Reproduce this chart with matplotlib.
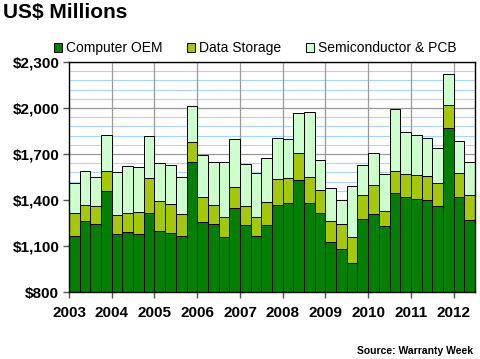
import matplotlib
matplotlib.use("Agg")
import matplotlib.pyplot as plt
import matplotlib.transforms as mtransforms
import numpy as np

plt.rcParams['font.family'] = ['Liberation Sans', 'DejaVu Sans']

# quarterly values, 2003 Q1 .. 2012 Q2 (US$ millions)
computer_oem = [1163, 1264, 1243, 1459, 1176, 1191, 1176, 1318,
                1199, 1184, 1165, 1651, 1254, 1243, 1158, 1348,
                1236, 1163, 1240, 1370, 1381, 1528, 1381, 1318,
                1126, 1079, 988, 1273, 1309, 1232, 1448, 1418,
                1409, 1403, 1359, 1867, 1418, 1267]
storage_top = [1318, 1370, 1359, 1591, 1305, 1318, 1325, 1541,
               1392, 1377, 1309, 1780, 1418, 1370, 1292, 1484,
               1359, 1292, 1385, 1536, 1543, 1707, 1552, 1467,
               1260, 1245, 1156, 1431, 1495, 1331, 1586, 1571,
               1566, 1558, 1513, 2020, 1573, 1435]
totals = [1513, 1591, 1552, 1824, 1584, 1623, 1612, 1817,
          1644, 1629, 1552, 2014, 1694, 1651, 1651, 1800,
          1636, 1578, 1675, 1804, 1798, 1968, 1977, 1664,
          1476, 1403, 1493, 1631, 1707, 1567, 1992, 1841,
          1824, 1804, 1742, 2219, 1785, 1651]
years = ['2003', '2004', '2005', '2006', '2007', '2008', '2009', '2010', '2011', '2012']

computer_oem = np.array(computer_oem)
data_storage = np.array(storage_top) - computer_oem
semiconductor = np.array(totals) - np.array(storage_top)

fig = plt.figure(figsize=(4.8, 3.59), dpi=100)
ax = fig.add_axes([0.1438, 0.1866, 0.8458, 0.6407])

x = np.arange(len(computer_oem)) + 0.5
# bars start at 800 (axis floor)
ax.bar(x, computer_oem - 800, bottom=800, width=1.0, color='#008000',
       edgecolor='black', linewidth=0.7, zorder=3, label='Computer OEM')
ax.bar(x, data_storage, bottom=computer_oem, width=1.0, color='#A6C800',
       edgecolor='black', linewidth=0.7, zorder=3, label='Data Storage')
ax.bar(x, semiconductor, bottom=computer_oem + data_storage, width=1.0,
       color='#CCFFCC', edgecolor='black', linewidth=0.7, zorder=3,
       label='Semiconductor & PCB')

ax.set_xlim(0, len(computer_oem))
ax.set_ylim(800, 2300)

# gridlines
for v in np.arange(800, 2301, 60):
    if (v - 800) % 300 != 0:
        ax.axhline(v, color='#A8D4FF', linewidth=0.8, zorder=1)
for v in range(1100, 2301, 300):
    ax.axhline(v, color='#999999', linewidth=0.9, zorder=1)
for xv in range(4, len(computer_oem), 4):
    ax.axvline(xv, color='#999999', linewidth=0.9, zorder=1)

ax.set_yticks(range(800, 2301, 300))
ax.set_yticklabels([f'${v:,}' for v in range(800, 2301, 300)],
                   fontsize=11, fontweight='bold')
ax.set_xticks(range(0, len(computer_oem), 4))
ax.set_xticklabels(years, fontsize=11, fontweight='bold')
offset = mtransforms.ScaledTranslation(4 / 100, 0, fig.dpi_scale_trans)
for lbl in ax.get_xticklabels():
    lbl.set_transform(lbl.get_transform() + offset)
ax.tick_params(axis='both', direction='out', length=4, width=1, color='#555555')
ax.tick_params(axis='x', pad=6)
ax.tick_params(axis='y', pad=3)

for s in ax.spines.values():
    s.set_color('black')
    s.set_linewidth(1.0)
    s.set_zorder(4)

fig.text(0.006, 0.966, 'US$ Millions', fontsize=15, fontweight='bold', va='center', ha='left')

handles, labels = ax.get_legend_handles_labels()
leg = fig.legend(handles, labels, loc='center left', bbox_to_anchor=(0.1, 0.866),
                 ncol=3, frameon=False, fontsize=10, handlelength=0.6, handleheight=0.6,
                 handletextpad=0.3, columnspacing=1.75, borderaxespad=0)

fig.text(0.985, 0.022, 'Source: Warranty Week', fontsize=7.5, fontweight='bold',
         ha='right', va='center')

fig.savefig('out.png', dpi=100)
